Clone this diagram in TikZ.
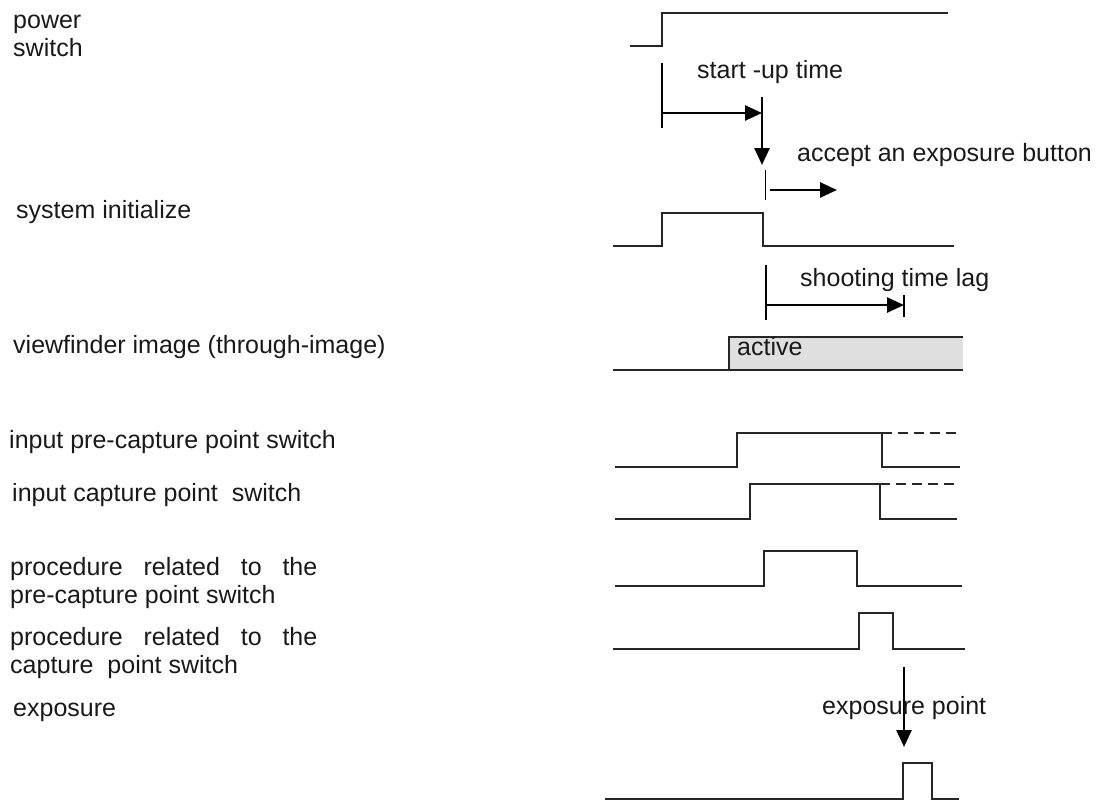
\documentclass[tikz,border=0pt]{standalone}
\usepackage{fontspec}
\setmainfont{Liberation Sans}
\usetikzlibrary{arrows.meta}

\begin{document}
\begin{tikzpicture}[x=1pt, y=-1pt,
    every node/.style={font=\fontsize{25}{28}\selectfont, text=black!90, inner sep=0pt, anchor=west},
    wave/.style={line width=2.2pt, black!85},
    dim/.style={line width=2.6pt, -{Triangle[length=17pt,width=15pt]}},
    tick/.style={line width=2.2pt}]
  \useasboundingbox (0,0) rectangle (1099,801);

  % Signal names
  \node[align=left] (lpower) at (13,36) {power\\switch};
  \node (lsys) at (16,212) {system initialize};
  \node (lview) at (13,347) {viewfinder image (through-image)};
  \node (lprein) at (9,442) {input pre-capture point switch};
  \node (lcapin) at (12,495) {input capture point\ \ switch};
  \node[align=left] (lpreproc) at (10,583) {procedure\ \ \ related\ \ \ to\ \ \ the\\pre-capture point switch};
  \node[align=left] (lcapproc) at (10,653) {procedure\ \ \ related\ \ \ to\ \ \ the\\capture\ \ point switch};
  \node (lexpo) at (13,712) {exposure};

  % Power switch
  \draw[wave] (630,46) -- (662,46) -- (662,13) -- (948,13);

  % Start-up time
  \coordinate (su0) at (662,113);
  \coordinate (su1) at (762,113);
  \coordinate (su2) at (762,97);
  \coordinate (su3) at (762,165);
  \draw[tick] (662,63) -- (662,128);
  \draw[dim] (su0) -- (su1);
  \draw[dim] (su2) -- (su3);
  \node (tstart) at (697,72) {start\ -up time};

  % Accept an exposure button
  \node (taccept) at (797,155) {accept an exposure button};
  \coordinate (ac0) at (770,190);
  \coordinate (ac1) at (837,190);
  \draw[line width=0.8pt] (765,170) -- (765,200);
  \draw[dim] (ac0) -- (ac1);

  % System initialize
  \draw[wave] (613,246) -- (662,246) -- (662,213) -- (763,213) -- (763,246) -- (954,246);

  % Shooting time lag
  \coordinate (sl0) at (766,305);
  \coordinate (sl1) at (904,305);
  \draw[tick] (766,265) -- (766,320);
  \draw[tick] (904,295) -- (904,317);
  \draw[dim] (sl0) -- (sl1);
  \node (tlag) at (800,280) {shooting time lag};

  % Viewfinder image
  \fill[gray!25] (729,337) rectangle (963,370);
  \draw[wave] (613,370) -- (963,370);
  \draw[wave] (729,370) -- (729,337) -- (963,337);
  \node (tactive) at (737,347) {active};

  % Input pre-capture point switch
  \draw[wave] (615,467) -- (737,467) -- (737,433) -- (882,433) -- (882,467) -- (960,467);
  \draw[wave, dash pattern=on 10pt off 6pt] (882,433) -- (960,433);

  % Input capture point switch
  \draw[wave] (615,519) -- (750,519) -- (750,484) -- (880,484) -- (880,519) -- (957,519);
  \draw[wave, dash pattern=on 10pt off 6pt] (880,484) -- (957,484);

  % Procedures
  \draw[wave] (615,586) -- (764,586) -- (764,551) -- (857,551) -- (857,586) -- (962,586);
  \draw[wave] (613,649) -- (859,649) -- (859,613) -- (893,613) -- (893,649) -- (965,649);

  % Exposure point
  \coordinate (ep0) at (904,667);
  \coordinate (ep1) at (904,747);
  \draw[dim] (ep0) -- (ep1);
  \node (texpo) at (822,708) {exposure point};

  % Exposure
  \draw[wave] (605,799) -- (903,799) -- (903,763) -- (932,763) -- (932,799) -- (959,799);
\end{tikzpicture}
\end{document}
